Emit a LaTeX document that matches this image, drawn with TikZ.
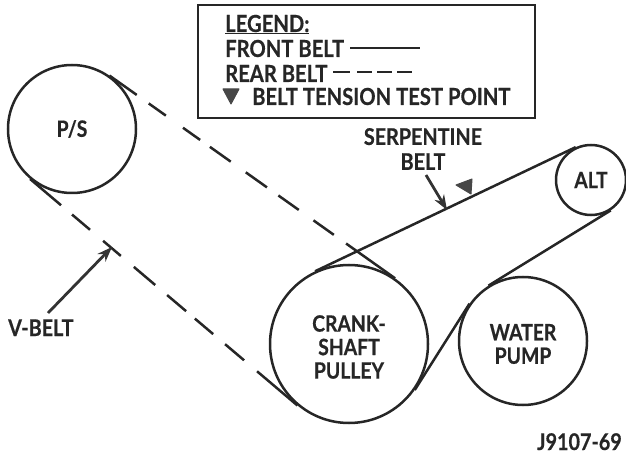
\documentclass[tikz,border=0pt]{standalone}
\usepackage{fontspec}
\setmainfont{Lato Bold}[FakeStretch=0.86, FakeBold=0.5]
\usepackage{tikz}
\usetikzlibrary{arrows.meta}

\begin{document}
\begin{tikzpicture}[
    x=1pt, y=-1pt,
    pulley/.style={draw=black!85, line width=2.5pt, circle, inner sep=0pt, align=center, text=black!85, font=\fontsize{22.5}{23.5}\selectfont},
    pulleylabel/.style={inner sep=0pt, align=center, text=black!85, font=\fontsize{22.5}{23.5}\selectfont, yshift=-3pt},
    belt/.style={draw=black!85, line width=2.5pt},
    pointer/.style={draw=black!80, line width=2.8pt, -{Stealth[length=15pt,width=11pt]}},
    varlabel/.style={font=\fontsize{23}{25}\selectfont, inner sep=0pt, text=black!85, align=center},
    legendrow/.style={font=\fontsize{23.5}{22}\selectfont, inner sep=0pt, text=black!85, anchor=base west},
    testpoint/.style={fill=black!72, draw=black!72, line join=round, line width=1pt}
]
\useasboundingbox (0,0) rectangle (626,454);

% Riemenscheiben
\node[pulley, minimum size=128pt] (ps) at (72,129) {P/S};
\node[pulley, minimum size=158pt, label={[pulleylabel]center:CRANK-\\SHAFT\\PULLEY}] (crank) at (349,344) {};
\node[pulley, minimum size=128pt, label={[pulleylabel]center:WATER\\PUMP}] (pump) at (523,341) {};
\node[pulley, minimum size=70pt] (alt) at (591,180) {ALT};

% Riemen
\draw[belt] (crank.115) -- (alt.115);
\draw[belt] (pump.122.6) -- (alt.-57.4);
\draw[belt] (crank.-35) -- (pump.145);
\draw[belt, dash pattern=on 33.5pt off 14.7pt on 21pt off 21pt on 21pt off 12pt on 25.6pt off 18.4pt on 26pt off 14pt on 25pt off 18pt on 25pt off 15pt on 70pt off 1pt] (ps.55) -- (crank.55);
\draw[belt, dash pattern=on 40.6pt off 14.4pt on 23.6pt off 17.1pt on 23.3pt off 17pt on 28pt off 15.6pt on 24.9pt off 11.5pt on 24pt off 15.6pt on 24.9pt off 17pt on 70pt off 1pt] (ps.230) -- (crank.230);

% Legende
\node[draw=black!85, line width=2pt, minimum width=337pt, minimum height=113pt, inner sep=0pt] (legend) at (366.5,61.5) {};
\node[legendrow] (lgtitle) at (225,32) {\underline{LEGEND:}};
\node[legendrow] (lgfront) at (225,57) {FRONT BELT};
\node[legendrow] (lgrear) at (225,82) {REAR BELT};
\node[legendrow] (lgtest) at (252,105) {BELT TENSION TEST POINT};
\coordinate (frontstart) at (350,48);
\coordinate (frontend) at (420,48);
\coordinate (rearstart) at (333,72);
\coordinate (rearend) at (412,72);
\draw[belt] (frontstart) -- (frontend);
\draw[belt, dash pattern=on 17pt off 7pt on 15pt off 5pt on 15pt off 5pt on 15pt off 5pt] (rearstart) -- (rearend);
\draw[testpoint] (223,89) -- (239,89) -- (231,104) -- cycle;
\draw[testpoint] (456,185) -- (472,179) -- (471,194) -- cycle;

% Beschriftung
\node[varlabel] (serp) at (423,149) {SERPENTINE\\BELT};
\node[varlabel, anchor=base west] (vbelt) at (8,336) {V-BELT};
\node[varlabel, anchor=base east] (code) at (622,450) {J9107-69};
\coordinate (serptip) at (447,210);
\coordinate (vtip) at (112,247);
\draw[pointer] (426,175) -- (serptip);
\draw[pointer] (48,313) -- (vtip);

\end{tikzpicture}
\end{document}
